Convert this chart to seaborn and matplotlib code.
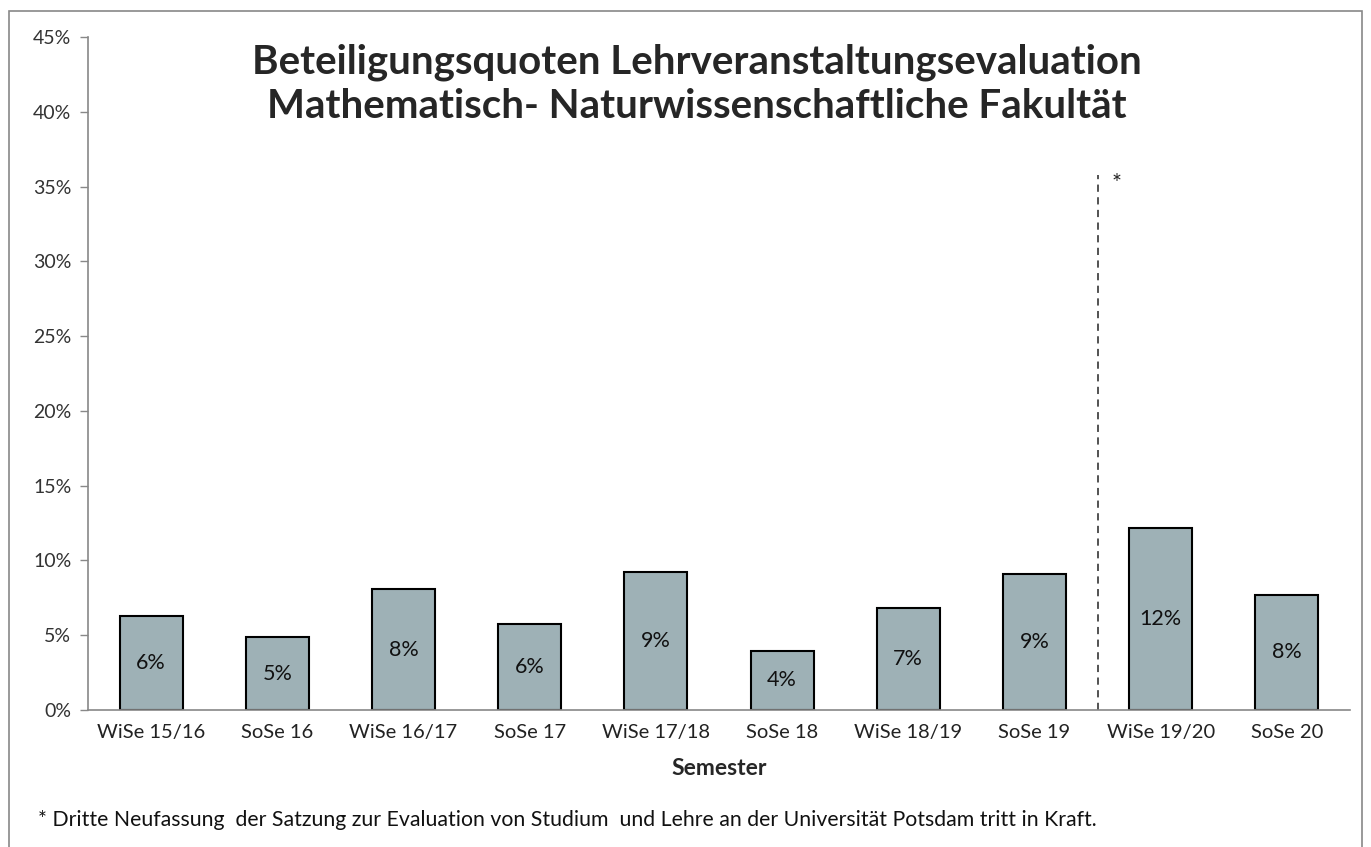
import matplotlib
matplotlib.use("Agg")
import matplotlib.pyplot as plt
import seaborn as sns
import pandas as pd
from matplotlib.patches import Rectangle

semesters = ["WiSe 15/16", "SoSe 16", "WiSe 16/17", "SoSe 17", "WiSe 17/18",
             "SoSe 18", "WiSe 18/19", "SoSe 19", "WiSe 19/20", "SoSe 20"]
quoten = [6.27, 4.87, 8.07, 5.78, 9.22, 3.95, 6.82, 9.11, 12.18, 7.71]
yticks = [0, 5, 10, 15, 20, 25, 30, 35, 40, 45]
ytick_labels = ["0%", "5%", "10%", "15%", "20%", "25%", "30%", "35%", "40%", "45%"]
title = "Beteiligungsquoten Lehrveranstaltungsevaluation\nMathematisch- Naturwissenschaftliche Fakultät"
footnote = "* Dritte Neufassung  der Satzung zur Evaluation von Studium  und Lehre an der Universität Potsdam tritt in Kraft."

sns.set_style("white")
plt.rcParams['font.family'] = ['Lato', 'DejaVu Sans']

df = pd.DataFrame({"Semester": semesters, "Quote": quoten})

fig = plt.figure(figsize=(13.71, 8.47), dpi=100)
ax = fig.add_axes([88/1371, (847-710)/847, (1350-88)/1371, (710-37)/847])

sns.barplot(data=df, x="Semester", y="Quote", ax=ax, color="#9eb1b6",
            edgecolor="black", linewidth=1.5, width=0.5, saturation=1)

ax.set_xlim(-0.5, len(semesters) - 0.5)
ax.set_ylim(0, 45)
ax.set_yticks(yticks)
ax.set_yticklabels(ytick_labels, fontsize=14, color="#333333")
ax.tick_params(axis="y", direction="out", length=6, width=1, color="#888888", pad=6, left=True)
ax.tick_params(axis="x", length=0, pad=10, labelsize=14.5, labelcolor="#222222")
for s in ["top", "right"]:
    ax.spines[s].set_visible(False)
for s in ["left", "bottom"]:
    ax.spines[s].set_color("#888888")
    ax.spines[s].set_linewidth(1.2)

ax.set_ylabel("")
ax.set_xlabel("Semester", fontsize=16.5, fontweight="bold", labelpad=12)

for i, v in enumerate(quoten):
    ax.text(i, v / 2, f"{round(v):.0f}%", ha="center", va="center", fontsize=15.5, color="#111111")

ax.plot([7.5, 7.5], [0, 35.8], linestyle=(0, (4, 3)), color="#444444", linewidth=1.3)
ax.text(7.65, 35.2, "*", fontsize=17, ha="center", va="center", color="#222222")

fig.text(0.508, 1 - 84/847, title, ha="center", va="center", fontsize=29, fontweight="bold",
         linespacing=1.22)
fig.text(38/1371, 1 - 820/847, footnote, ha="left", va="center", fontsize=15.3, color="#111111")

fig.patches.append(Rectangle((9/1371, -0.05), (1362-9)/1371, 1.05 - 11/847,
                             transform=fig.transFigure, fill=False, edgecolor="#888888",
                             linewidth=1.2))

fig.savefig("out.png", dpi=100)
